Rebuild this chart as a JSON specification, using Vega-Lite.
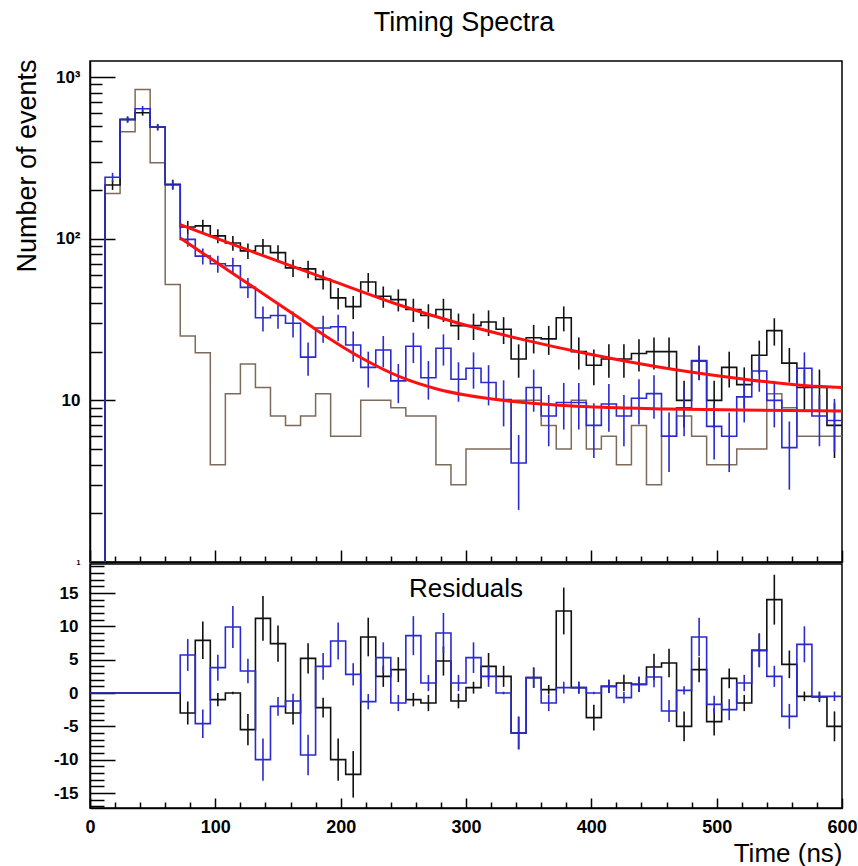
{
  "$schema": "https://vega.github.io/schema/vega-lite/v6.json",
  "background": "white",
  "padding": {"left": 12, "top": 9, "right": 0, "bottom": 0},
  "title": {"text": "Timing Spectra", "fontSize": 27, "fontWeight": "normal", "font": "Liberation Sans", "color": "#000", "anchor": "middle", "baseline": "alphabetic", "offset": 0, "dx": 29},
  "spacing": 2,
  "bounds": "flush",
  "datasets": {
    "bins": [
      {"t": 0, "k": 1, "b": 1, "g": 1, "rk": 0, "rb": 0},
      {"t": 12, "tc": 18, "k": 215, "klo": 200.3, "khi": 229.7, "b": 240, "blo": 224.5, "bhi": 255.5, "g": 190, "rk": 0, "rb": 0},
      {"t": 24, "tc": 30, "k": 547, "klo": 523.6, "khi": 570.4, "b": 545, "blo": 521.7, "bhi": 568.3, "g": 458, "rk": 0, "rb": 0},
      {"t": 36, "tc": 42, "k": 601, "klo": 576.5, "khi": 625.5, "b": 636, "blo": 610.8, "bhi": 661.2, "g": 838, "rk": 0, "rb": 0},
      {"t": 48, "tc": 54, "k": 490, "klo": 467.9, "khi": 512.1, "b": 490, "blo": 467.9, "bhi": 512.1, "g": 295, "rk": 0, "rb": 0},
      {"t": 60, "tc": 66, "k": 217, "klo": 202.3, "khi": 231.7, "b": 215, "blo": 200.3, "bhi": 229.7, "g": 52, "rk": 0, "rb": 0},
      {"t": 72, "tc": 78, "k": 118, "klo": 107.1, "khi": 128.9, "b": 99, "blo": 89.1, "bhi": 108.9, "g": 25, "rk": -3, "rklo": -4.73, "rkhi": -1.27, "rb": 5.7, "rblo": 3.31, "rbhi": 8.09},
      {"t": 84, "tc": 90, "k": 120, "klo": 109, "khi": 131, "b": 78, "blo": 69.2, "bhi": 86.8, "g": 19.7, "rk": 7.9, "rklo": 5.09, "rkhi": 10.71, "rb": -4.6, "rblo": -6.74, "rbhi": -2.46},
      {"t": 96, "tc": 102, "k": 104, "klo": 93.8, "khi": 114.2, "b": 70, "blo": 61.6, "bhi": 78.4, "g": 4, "rk": -1, "rklo": -2, "rkhi": 0, "rb": 3.8, "rblo": 1.85, "rbhi": 5.75},
      {"t": 108, "tc": 114, "k": 94, "klo": 84.3, "khi": 103.7, "b": 68, "blo": 59.8, "bhi": 76.2, "g": 11, "rk": 0, "rklo": -0.2, "rkhi": 0.2, "rb": 9.9, "rblo": 6.75, "rbhi": 13.05},
      {"t": 120, "tc": 126, "k": 84, "klo": 74.8, "khi": 93.2, "b": 50, "blo": 42.9, "bhi": 57.1, "g": 16.8, "rk": -5.5, "rklo": -7.85, "rkhi": -3.15, "rb": 3.3, "rblo": 1.48, "rbhi": 5.12},
      {"t": 132, "tc": 138, "k": 90, "klo": 80.5, "khi": 99.5, "b": 32.4, "blo": 26.7, "bhi": 38.1, "g": 12, "rk": 11.2, "rklo": 7.85, "rkhi": 14.55, "rb": -10, "rblo": -13.16, "rbhi": -6.84},
      {"t": 144, "tc": 150, "k": 82, "klo": 72.9, "khi": 91.1, "b": 33.5, "blo": 27.7, "bhi": 39.3, "g": 8, "rk": 7.4, "rklo": 4.68, "rkhi": 10.12, "rb": -2, "rblo": -3.41, "rbhi": -0.59},
      {"t": 156, "tc": 162, "k": 66, "klo": 57.9, "khi": 74.1, "b": 30, "blo": 24.5, "bhi": 35.5, "g": 7, "rk": -3, "rklo": -4.73, "rkhi": -1.27, "rb": -1.2, "rblo": -2.3, "rbhi": -0.1},
      {"t": 168, "tc": 174, "k": 65, "klo": 56.9, "khi": 73.1, "b": 18.5, "blo": 14.2, "bhi": 22.8, "g": 8, "rk": 5.2, "rklo": 2.92, "rkhi": 7.48, "rb": -9.3, "rblo": -12.35, "rbhi": -6.25},
      {"t": 180, "tc": 186, "k": 56, "klo": 48.5, "khi": 63.5, "b": 28, "blo": 22.7, "bhi": 33.3, "g": 11, "rk": -2.2, "rklo": -3.68, "rkhi": -0.72, "rb": 4, "rblo": 2, "rbhi": 6},
      {"t": 192, "tc": 198, "k": 43, "klo": 36.4, "khi": 49.6, "b": 28.5, "blo": 23.2, "bhi": 33.8, "g": 6, "rk": -10, "rklo": -13.16, "rkhi": -6.84, "rb": 7.8, "rblo": 5.01, "rbhi": 10.59},
      {"t": 204, "tc": 210, "k": 38, "klo": 31.8, "khi": 44.2, "b": 22, "blo": 17.3, "bhi": 26.7, "g": 6, "rk": -12.2, "rklo": -15.69, "rkhi": -8.71, "rb": 2.8, "rblo": 1.13, "rbhi": 4.47},
      {"t": 216, "tc": 222, "k": 54, "klo": 46.7, "khi": 61.3, "b": 16, "blo": 12, "bhi": 20, "g": 10, "rk": 8.4, "rklo": 5.5, "rkhi": 11.3, "rb": -1.3, "rblo": -2.44, "rbhi": -0.16},
      {"t": 228, "tc": 234, "k": 44, "klo": 37.4, "khi": 50.6, "b": 20.5, "blo": 16, "bhi": 25, "g": 10, "rk": 2.5, "rklo": 0.92, "rkhi": 4.08, "rb": 5.3, "rblo": 3, "rbhi": 7.6},
      {"t": 240, "tc": 246, "k": 42, "klo": 35.5, "khi": 48.5, "b": 13.2, "blo": 9.6, "bhi": 16.8, "g": 9, "rk": 3.5, "rklo": 1.63, "rkhi": 5.37, "rb": -1.5, "rblo": -2.72, "rbhi": -0.28},
      {"t": 252, "tc": 258, "k": 36.5, "klo": 30.5, "khi": 42.5, "b": 21.6, "blo": 17, "bhi": 26.2, "g": 8, "rk": -1, "rklo": -2, "rkhi": 0, "rb": 8.6, "rblo": 5.67, "rbhi": 11.53},
      {"t": 264, "tc": 270, "k": 33.5, "klo": 27.7, "khi": 39.3, "b": 13.8, "blo": 10.1, "bhi": 17.5, "g": 8, "rk": -1.5, "rklo": -2.72, "rkhi": -0.28, "rb": 1.5, "rblo": 0.28, "rbhi": 2.72},
      {"t": 276, "tc": 282, "k": 36.5, "klo": 30.5, "khi": 42.5, "b": 21, "blo": 16.4, "bhi": 25.6, "g": 4, "rk": 4.8, "rklo": 2.61, "rkhi": 6.99, "rb": 9, "rblo": 6, "rbhi": 12},
      {"t": 288, "tc": 294, "k": 29, "klo": 23.6, "khi": 34.4, "b": 13.5, "blo": 9.8, "bhi": 17.2, "g": 3, "rk": -1.2, "rklo": -2.3, "rkhi": -0.1, "rb": 1.5, "rblo": 0.28, "rbhi": 2.72},
      {"t": 300, "tc": 306, "k": 29, "klo": 23.6, "khi": 34.4, "b": 15.8, "blo": 11.8, "bhi": 19.8, "g": 5, "rk": 0.8, "rklo": -0.09, "rkhi": 1.69, "rb": 5.3, "rblo": 3, "rbhi": 7.6},
      {"t": 312, "tc": 318, "k": 30.5, "klo": 25, "khi": 36, "b": 12.9, "blo": 9.3, "bhi": 16.5, "g": 5, "rk": 4, "rklo": 2, "rkhi": 6, "rb": 2.5, "rblo": 0.92, "rbhi": 4.08},
      {"t": 324, "tc": 330, "k": 27.5, "klo": 22.3, "khi": 32.7, "b": 10.1, "blo": 6.9, "bhi": 13.3, "g": 5, "rk": 2.5, "rklo": 0.92, "rkhi": 4.08, "rb": 0, "rblo": -0.2, "rbhi": 0.2},
      {"t": 336, "tc": 342, "k": 18, "klo": 13.8, "khi": 22.2, "b": 4.1, "blo": 2.1, "bhi": 6.1, "g": 10, "rk": -6, "rklo": -8.45, "rkhi": -3.55, "rb": -6, "rblo": -8.45, "rbhi": -3.55},
      {"t": 348, "tc": 354, "k": 24.4, "klo": 19.5, "khi": 29.3, "b": 12, "blo": 8.5, "bhi": 15.5, "g": 10, "rk": 2.3, "rklo": 0.78, "rkhi": 3.82, "rb": 2.3, "rblo": 0.78, "rbhi": 3.82},
      {"t": 360, "tc": 366, "k": 24, "klo": 19.1, "khi": 28.9, "b": 8, "blo": 5.2, "bhi": 10.8, "g": 7, "rk": 0.5, "rklo": -0.21, "rkhi": 1.21, "rb": -1.5, "rblo": -2.72, "rbhi": -0.28},
      {"t": 372, "tc": 378, "k": 32.4, "klo": 26.7, "khi": 38.1, "b": 9.7, "blo": 6.6, "bhi": 12.8, "g": 5, "rk": 12.3, "rklo": 8.79, "rkhi": 15.81, "rb": 0.8, "rblo": -0.09, "rbhi": 1.69},
      {"t": 384, "tc": 390, "k": 20, "klo": 15.5, "khi": 24.5, "b": 9.7, "blo": 6.6, "bhi": 12.8, "g": 10, "rk": 0.8, "rklo": -0.09, "rkhi": 1.69, "rb": 0.8, "rblo": -0.09, "rbhi": 1.69},
      {"t": 396, "tc": 402, "k": 16.5, "klo": 12.4, "khi": 20.6, "b": 7, "blo": 4.4, "bhi": 9.6, "g": 5, "rk": -3.7, "rklo": -5.62, "rkhi": -1.78, "rb": 0, "rblo": -0.2, "rbhi": 0.2},
      {"t": 408, "tc": 414, "k": 18, "klo": 13.8, "khi": 22.2, "b": 9.5, "blo": 6.4, "bhi": 12.6, "g": 6, "rk": 1, "rklo": 0, "rkhi": 2, "rb": 1, "rblo": 0, "rbhi": 2},
      {"t": 420, "tc": 426, "k": 18, "klo": 13.8, "khi": 22.2, "b": 8, "blo": 5.2, "bhi": 10.8, "g": 4, "rk": 1.5, "rklo": 0.28, "rkhi": 2.72, "rb": -0.7, "rblo": -1.54, "rbhi": 0.14},
      {"t": 432, "tc": 438, "k": 19.5, "klo": 15.1, "khi": 23.9, "b": 10.3, "blo": 7.1, "bhi": 13.5, "g": 7, "rk": 1.3, "rklo": 0.16, "rkhi": 2.44, "rb": 1.3, "rblo": 0.16, "rbhi": 2.44},
      {"t": 444, "tc": 450, "k": 20, "klo": 15.5, "khi": 24.5, "b": 11, "blo": 7.7, "bhi": 14.3, "g": 3, "rk": 3.9, "rklo": 1.93, "rkhi": 5.87, "rb": 2.4, "rblo": 0.85, "rbhi": 3.95},
      {"t": 456, "tc": 462, "k": 20, "klo": 15.5, "khi": 24.5, "b": 6, "blo": 3.6, "bhi": 8.4, "g": 6, "rk": 4.5, "rklo": 2.38, "rkhi": 6.62, "rb": -2.7, "rblo": -4.34, "rbhi": -1.06},
      {"t": 468, "tc": 474, "k": 10, "klo": 6.8, "khi": 13.2, "b": 9, "blo": 6, "bhi": 12, "g": 8, "rk": -5, "rklo": -7.24, "rkhi": -2.76, "rb": 0.4, "rblo": -0.23, "rbhi": 1.03},
      {"t": 480, "tc": 486, "k": 17.5, "klo": 13.3, "khi": 21.7, "b": 17.6, "blo": 13.4, "bhi": 21.8, "g": 6, "rk": 3.5, "rklo": 1.63, "rkhi": 5.37, "rb": 8.4, "rblo": 5.5, "rbhi": 11.3},
      {"t": 492, "tc": 498, "k": 10, "klo": 6.8, "khi": 13.2, "b": 6.9, "blo": 4.3, "bhi": 9.5, "g": 4, "rk": -4.3, "rklo": -6.37, "rkhi": -2.23, "rb": -1.7, "rblo": -3, "rbhi": -0.4},
      {"t": 504, "tc": 510, "k": 16, "klo": 12, "khi": 20, "b": 6, "blo": 3.6, "bhi": 8.4, "g": 4, "rk": 2.2, "rklo": 0.72, "rkhi": 3.68, "rb": -2.5, "rblo": -4.08, "rbhi": -0.92},
      {"t": 516, "tc": 522, "k": 12.5, "klo": 9, "khi": 16, "b": 10.5, "blo": 7.3, "bhi": 13.7, "g": 5, "rk": -1.5, "rklo": -2.72, "rkhi": -0.28, "rb": 1.5, "rblo": 0.28, "rbhi": 2.72},
      {"t": 528, "tc": 534, "k": 19, "klo": 14.6, "khi": 23.4, "b": 15.2, "blo": 11.3, "bhi": 19.1, "g": 5, "rk": 6.4, "rklo": 3.87, "rkhi": 8.93, "rb": 6.4, "rblo": 3.87, "rbhi": 8.93},
      {"t": 540, "tc": 546, "k": 27, "klo": 21.8, "khi": 32.2, "b": 10, "blo": 6.8, "bhi": 13.2, "g": 11, "rk": 14, "rklo": 10.26, "rkhi": 17.74, "rb": 2.5, "rblo": 0.92, "rbhi": 4.08},
      {"t": 552, "tc": 558, "k": 17, "klo": 12.9, "khi": 21.1, "b": 5.1, "blo": 2.8, "bhi": 7.4, "g": 9, "rk": 4.3, "rklo": 2.23, "rkhi": 6.37, "rb": -3.5, "rblo": -5.37, "rbhi": -1.63},
      {"t": 564, "tc": 570, "k": 12, "klo": 8.5, "khi": 15.5, "b": 15.8, "blo": 11.8, "bhi": 19.8, "g": 6, "rk": -0.5, "rklo": -1.21, "rkhi": 0.21, "rb": 7.3, "rblo": 4.6, "rbhi": 10},
      {"t": 576, "tc": 582, "k": 12, "klo": 8.5, "khi": 15.5, "b": 8, "blo": 5.2, "bhi": 10.8, "g": 6, "rk": -0.6, "rklo": -1.37, "rkhi": 0.17, "rb": -0.5, "rblo": -1.21, "rbhi": 0.21},
      {"t": 588, "tc": 594, "k": 7, "klo": 4.4, "khi": 9.6, "b": 7.5, "blo": 4.8, "bhi": 10.2, "g": 6, "rk": -5, "rklo": -7.24, "rkhi": -2.76, "rb": -0.5, "rblo": -1.21, "rbhi": 0.21},
      {"t": 600, "k": 7, "b": 7.5, "g": 6, "rk": -5, "rb": -0.5}
    ],
    "fitA": [
      {"t": 72, "v": 122}, {"t": 100, "v": 101}, {"t": 130, "v": 82.8}, {"t": 168, "v": 64.6},
      {"t": 200, "v": 52.5}, {"t": 245, "v": 39.3}, {"t": 290, "v": 30.6}, {"t": 343, "v": 24},
      {"t": 397, "v": 19.4}, {"t": 466, "v": 15.5}, {"t": 519, "v": 13.6}, {"t": 572, "v": 12.3}, {"t": 600, "v": 12}
    ],
    "fitB": [
      {"t": 72, "v": 101}, {"t": 90, "v": 81.3}, {"t": 111, "v": 63.2}, {"t": 137, "v": 46.3},
      {"t": 164, "v": 33.5}, {"t": 190, "v": 24.4}, {"t": 217, "v": 18.2}, {"t": 249, "v": 13.8},
      {"t": 276, "v": 11.8}, {"t": 302, "v": 10.7}, {"t": 329, "v": 10.0}, {"t": 355, "v": 9.55},
      {"t": 382, "v": 9.25}, {"t": 409, "v": 9.05}, {"t": 460, "v": 8.85}, {"t": 520, "v": 8.7}, {"t": 600, "v": 8.6}
    ],
    "lbl": [{"label": "Residuals", "t": 300, "r": 14.4}]
  },
  "vconcat": [
    {
      "width": 752,
      "height": 501,
      "resolve": {"axis": {"x": "independent", "y": "independent"}},
      "layer": [
        {
          "data": {"name": "bins"},
          "mark": {"type": "line", "interpolate": "step-after", "color": "#7d6a58", "strokeWidth": 1.5, "clip": true},
          "encoding": {
            "x": {"field": "t", "type": "quantitative", "scale": {"domain": [0, 600], "nice": false, "zero": false},
              "axis": {"orient": "bottom", "values": [0, 100, 200, 300, 400, 500, 600], "tickSize": -12, "labels": false, "title": null, "grid": false, "domainColor": "#000", "domainWidth": 1.5, "tickColor": "#000", "tickWidth": 1.5}},
            "y": {"field": "g", "type": "quantitative", "scale": {"type": "log", "domain": [1, 1256], "nice": false},
              "axis": {"orient": "left", "values": [1, 10, 100, 1000], "tickSize": -25, "tickColor": "#000", "tickWidth": 1.5, "domainColor": "#000", "domainWidth": 1.5, "grid": false,
                "labelExpr": "datum.value == 1000 ? '10³' : datum.value == 100 ? '10²' : datum.value == 10 ? '10' : '1'",
                "labelFontWeight": "bold", "labelFontSize": {"condition": {"test": "datum.value == 1", "value": 7}, "value": 17}, "labelColor": "#000", "labelPadding": 35, "labelFont": "Liberation Sans",
                "title": "Number of events", "titleFont": "Liberation Sans", "titleFontSize": 27, "titleFontWeight": "normal", "titleColor": "#000",
                "titleAngle": 270, "titleX": -63, "titleY": -2, "titleAlign": "right", "titleBaseline": "middle"}}
          }
        },
        {
          "data": {"name": "bins"},
          "mark": {"type": "line", "interpolate": "step-after", "color": "#111111", "strokeWidth": 1.6, "clip": true},
          "encoding": {
            "x": {"field": "t", "type": "quantitative",
              "axis": {"orient": "bottom", "values": [20, 40, 60, 80, 120, 140, 160, 180, 220, 240, 260, 280, 320, 340, 360, 380, 420, 440, 460, 480, 520, 540, 560, 580], "tickSize": -6, "labels": false, "domain": false, "title": null, "grid": false, "tickColor": "#000", "tickWidth": 1.5}},
            "y": {"field": "k", "type": "quantitative",
              "axis": {"orient": "left", "values": [2, 3, 4, 5, 6, 7, 8, 9, 20, 30, 40, 50, 60, 70, 80, 90, 200, 300, 400, 500, 600, 700, 800, 900], "tickSize": -12, "labels": false, "domain": false, "title": null, "grid": false, "tickColor": "#000", "tickWidth": 1.5}}
          }
        },
        {
          "data": {"name": "bins"},
          "mark": {"type": "line", "interpolate": "step-after", "color": "#2a2ad0", "strokeWidth": 1.6, "clip": true},
          "encoding": {
            "x": {"field": "t", "type": "quantitative", "axis": null},
            "y": {"field": "b", "type": "quantitative", "axis": null}
          }
        },
        {
          "data": {"name": "bins"},
          "mark": {"type": "rule", "color": "#111111", "strokeWidth": 1.6, "clip": true},
          "encoding": {
            "x": {"field": "tc", "type": "quantitative", "axis": null},
            "y": {"field": "klo", "type": "quantitative", "axis": null},
            "y2": {"field": "khi"}
          }
        },
        {
          "data": {"name": "bins"},
          "mark": {"type": "rule", "color": "#2a2ad0", "strokeWidth": 1.6, "clip": true},
          "encoding": {
            "x": {"field": "tc", "type": "quantitative", "axis": null},
            "y": {"field": "blo", "type": "quantitative", "axis": null},
            "y2": {"field": "bhi"}
          }
        },
        {
          "data": {"name": "fitA"},
          "mark": {"type": "line", "interpolate": "monotone", "color": "#ff1010", "strokeWidth": 3, "clip": true},
          "encoding": {
            "x": {"field": "t", "type": "quantitative", "axis": null},
            "y": {"field": "v", "type": "quantitative", "axis": null}
          }
        },
        {
          "data": {"name": "fitB"},
          "mark": {"type": "line", "interpolate": "monotone", "color": "#ff1010", "strokeWidth": 3, "clip": true},
          "encoding": {
            "x": {"field": "t", "type": "quantitative", "axis": null},
            "y": {"field": "v", "type": "quantitative", "axis": null}
          }
        }
      ]
    },
    {
      "width": 752,
      "height": 244,
      "resolve": {"axis": {"x": "independent", "y": "independent"}},
      "layer": [
        {
          "data": {"name": "bins"},
          "mark": {"type": "line", "interpolate": "step-after", "color": "#111111", "strokeWidth": 1.6, "clip": true},
          "encoding": {
            "x": {"field": "t", "type": "quantitative", "scale": {"domain": [0, 600], "nice": false, "zero": false},
              "axis": {"orient": "bottom", "values": [0, 100, 200, 300, 400, 500, 600], "tickSize": -10, "tickColor": "#000", "tickWidth": 1.5, "domainColor": "#000", "domainWidth": 1.5, "grid": false,
                "labelFlush": false, "labelFontWeight": "bold", "labelFontSize": 18, "labelColor": "#000", "labelPadding": 20, "labelFont": "Liberation Sans",
                "title": "Time (ns)", "titleFont": "Liberation Sans", "titleFontSize": 26, "titleFontWeight": "normal", "titleColor": "#000",
                "titleX": 752, "titleY": 53, "titleAlign": "right", "titleBaseline": "alphabetic", "titleAnchor": "end"}},
            "y": {"field": "rk", "type": "quantitative", "scale": {"domain": [-17.25, 19.35], "nice": false, "zero": false},
              "axis": {"orient": "left", "values": [-15, -10, -5, 0, 5, 10, 15], "tickSize": -25, "tickColor": "#000", "tickWidth": 1.5, "domainColor": "#000", "domainWidth": 1.5, "grid": false,
                "labelExpr": "datum.value < 0 ? '-' + abs(datum.value) : '' + datum.value",
                "labelFontWeight": "bold", "labelFontSize": 17, "labelColor": "#000", "labelPadding": 37, "labelFont": "Liberation Sans", "title": null}}
          }
        },
        {
          "data": {"name": "bins"},
          "mark": {"type": "line", "interpolate": "step-after", "color": "#2a2ad0", "strokeWidth": 1.6, "clip": true},
          "encoding": {
            "x": {"field": "t", "type": "quantitative",
              "axis": {"orient": "bottom", "values": [20, 40, 60, 80, 120, 140, 160, 180, 220, 240, 260, 280, 320, 340, 360, 380, 420, 440, 460, 480, 520, 540, 560, 580], "tickSize": -6, "labels": false, "domain": false, "title": null, "grid": false, "tickColor": "#000", "tickWidth": 1.5}},
            "y": {"field": "rb", "type": "quantitative",
              "axis": {"orient": "left", "values": [-17, -16, -14, -13, -12, -11, -9, -8, -7, -6, -4, -3, -2, -1, 1, 2, 3, 4, 6, 7, 8, 9, 11, 12, 13, 14, 16, 17, 18, 19], "tickSize": -14, "labels": false, "domain": false, "title": null, "grid": false, "tickColor": "#000", "tickWidth": 1.5}}
          }
        },
        {
          "data": {"name": "bins"},
          "mark": {"type": "rule", "color": "#111111", "strokeWidth": 1.6, "clip": true},
          "encoding": {
            "x": {"field": "tc", "type": "quantitative", "axis": null},
            "y": {"field": "rklo", "type": "quantitative", "axis": null},
            "y2": {"field": "rkhi"}
          }
        },
        {
          "data": {"name": "bins"},
          "mark": {"type": "rule", "color": "#2a2ad0", "strokeWidth": 1.6, "clip": true},
          "encoding": {
            "x": {"field": "tc", "type": "quantitative", "axis": null},
            "y": {"field": "rblo", "type": "quantitative", "axis": null},
            "y2": {"field": "rbhi"}
          }
        },
        {
          "data": {"name": "lbl"},
          "mark": {"type": "text", "font": "Liberation Sans", "fontSize": 26, "fontWeight": "normal", "color": "#000", "align": "center", "baseline": "alphabetic"},
          "encoding": {
            "x": {"field": "t", "type": "quantitative", "axis": null},
            "y": {"field": "r", "type": "quantitative", "axis": null},
            "text": {"field": "label"}
          }
        }
      ]
    }
  ],
  "config": {
    "font": "Liberation Sans",
    "view": {"stroke": "#000", "strokeWidth": 1.5}
  }
}
